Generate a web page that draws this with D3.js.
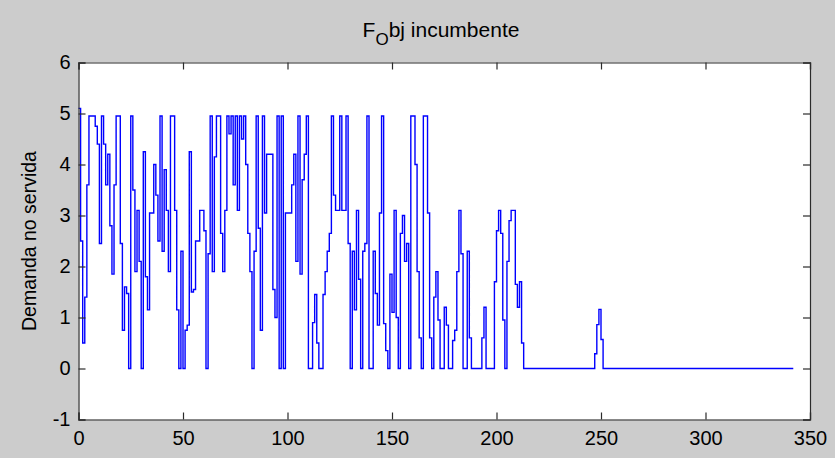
<!DOCTYPE html>
<html>
<head>
<meta charset="utf-8">
<script src="https://cdn.jsdelivr.net/npm/d3@7"></script>
<style>
  html, body { margin: 0; padding: 0; background: #cccccc; }
  svg { display: block; font-family: "Liberation Sans", Arial, sans-serif; }
</style>
</head>
<body>
<svg id="chart" width="835" height="458"></svg>
<script>
// Unserved demand of the incumbent objective, one value per iteration step
const demand = [
  5.1, 2.5, 0.5, 1.4, 3.6, 4.95, 4.95, 4.95, 4.75, 4.4,
  2.45, 4.95, 4.4, 3.6, 4.2, 2.8, 1.85, 3.6, 4.95, 4.95,
  2.45, 0.75, 1.6, 1.47, 0, 4.95, 3.5, 1.9, 3.1, 2.1,
  0, 4.25, 1.8, 1.15, 3.05, 3.05, 4.0, 3.4, 2.5, 4.95,
  2.3, 3.9, 3.1, 1.9, 4.95, 4.95, 3.1, 1.15, 0, 2.3,
  0, 0.75, 0.85, 4.25, 1.5, 1.55, 2.5, 2.5, 3.1, 3.1,
  2.7, 0, 2.25, 4.95, 1.9, 4.15, 4.95, 4.95, 2.65, 1.9,
  3.1, 4.95, 4.6, 4.95, 3.6, 4.95, 3.1, 4.95, 4.5, 4.95,
  4.0, 2.65, 1.9, 0, 2.3, 4.95, 2.75, 0.75, 4.95, 3.05,
  4.2, 4.2, 4.2, 1.55, 1.0, 4.95, 0, 4.95, 0, 3.05,
  3.05, 3.05, 3.6, 4.2, 2.1, 4.95, 1.85, 3.7, 4.2, 4.95,
  0, 0, 0.9, 1.45, 0.5, 0, 0, 1.45, 1.9, 2.3,
  2.65, 4.95, 3.4, 3.1, 3.1, 4.95, 3.1, 3.1, 4.95, 2.45,
  0, 2.3, 1.15, 3.1, 1.75, 0, 2.3, 2.45, 4.95, 0,
  0, 2.3, 1.47, 0.85, 3.05, 4.95, 0.88, 0.35, 0, 1.85,
  1.1, 3.1, 1.0, 0, 2.65, 3.0, 2.1, 2.45, 0, 4.95,
  4.95, 4.0, 1.9, 0.6, 0, 4.95, 4.95, 3.05, 0.6, 0,
  1.4, 1.9, 0.95, 0, 0, 1.2, 0.85, 0, 0, 0.55,
  0.75, 1.9, 3.1, 2.25, 0, 0, 2.3, 0.6, 0, 0,
  0, 0, 0, 0.6, 1.2, 0, 0, 0, 0, 1.7,
  2.7, 3.1, 2.65, 0.95, 0, 2.1, 2.9, 3.1, 3.1, 1.65,
  1.2, 1.7, 0.5, 0, 0, 0, 0, 0, 0, 0,
  0, 0, 0, 0, 0, 0, 0, 0, 0, 0,
  0, 0, 0, 0, 0, 0, 0, 0, 0, 0,
  0, 0, 0, 0, 0, 0, 0, 0.29, 0.86, 1.16,
  0.57, 0, 0, 0, 0, 0, 0, 0, 0, 0,
  0, 0, 0, 0, 0, 0, 0, 0, 0, 0,
  0, 0, 0, 0, 0, 0, 0, 0, 0, 0,
  0, 0, 0, 0, 0, 0, 0, 0, 0, 0,
  0, 0, 0, 0, 0, 0, 0, 0, 0, 0,
  0, 0, 0, 0, 0, 0, 0, 0, 0, 0,
  0, 0, 0, 0, 0, 0, 0, 0, 0, 0,
  0, 0, 0, 0, 0, 0, 0, 0, 0, 0,
  0, 0, 0, 0, 0, 0, 0, 0, 0, 0,
  0, 0
];

const xTicks = [0, 50, 100, 150, 200, 250, 300, 350];
const yTicks = [-1, 0, 1, 2, 3, 4, 5, 6];
const titleMain = "F";
const titleSub = "O";
const titleRest = "bj incumbente";
const yLabel = "Demanda no servida";

const svg = d3.select("#chart");
const box = { left: 78.5, right: 810, top: 62.5, bottom: 419.5 };

const x = d3.scaleLinear().domain([0, 350]).range([box.left, box.right]);
const y = d3.scaleLinear().domain([-1, 6]).range([box.bottom, box.top]);

// axes background
svg.append("rect")
  .attr("x", box.left).attr("y", box.top)
  .attr("width", box.right - box.left).attr("height", box.bottom - box.top)
  .attr("fill", "#ffffff");

// stairs trace: each value holds until the next step, last step closes at n
const pts = demand.map((v, i) => [i, v]);
pts.push([demand.length, demand[demand.length - 1]]);
const line = d3.line()
  .x(d => x(d[0]))
  .y(d => y(d[1]))
  .curve(d3.curveStepAfter);

svg.append("path")
  .datum(pts)
  .attr("fill", "none")
  .attr("stroke", "#0000ff")
  .attr("stroke-width", 1.4)
  .attr("d", line);

const tickLen = 7;
const tickFont = 20;
const axisColor = "#2b2b2b";

// bottom and top axes (ticks pointing inward)
const axB = svg.append("g").attr("transform", `translate(0,${box.bottom})`)
  .call(d3.axisBottom(x).tickValues(xTicks).tickSize(-tickLen).tickPadding(11).tickFormat(d3.format("d")));
const axT = svg.append("g").attr("transform", `translate(0,${box.top})`)
  .call(d3.axisTop(x).tickValues(xTicks).tickSize(-tickLen).tickFormat(""));
const axL = svg.append("g").attr("transform", `translate(${box.left},0)`)
  .call(d3.axisLeft(y).tickValues(yTicks).tickSize(-tickLen).tickPadding(8).tickFormat(d3.format("d")));
const axR = svg.append("g").attr("transform", `translate(${box.right},0)`)
  .call(d3.axisRight(y).tickValues(yTicks).tickSize(-tickLen).tickFormat(""));

[axB, axT, axL, axR].forEach(g => {
  g.select(".domain").attr("stroke", axisColor).attr("stroke-width", 1.2);
  g.selectAll(".tick line").attr("stroke", axisColor).attr("stroke-width", 1.2);
  g.selectAll(".tick text")
    .attr("fill", "#000")
    .style("font-size", tickFont + "px")
    .style("font-family", "'Liberation Sans', Arial, sans-serif");
});
axL.selectAll(".tick text").text(d => d < 0 ? "-" + Math.abs(d) : d);

// title with subscript
const title = svg.append("text")
  .attr("x", 441)
  .attr("y", 37)
  .attr("text-anchor", "middle")
  .attr("fill", "#000")
  .style("font-size", "21px");
title.append("tspan").text(titleMain);
title.append("tspan").attr("dy", 8).style("font-size", "17px").text(titleSub);
title.append("tspan").attr("dy", -8).text(titleRest);

// y axis label
svg.append("text")
  .attr("transform", `translate(36,${(box.top + box.bottom) / 2}) rotate(-90)`)
  .attr("text-anchor", "middle")
  .attr("fill", "#000")
  .style("font-size", "19.5px")
  .text(yLabel);
</script>
</body>
</html>
